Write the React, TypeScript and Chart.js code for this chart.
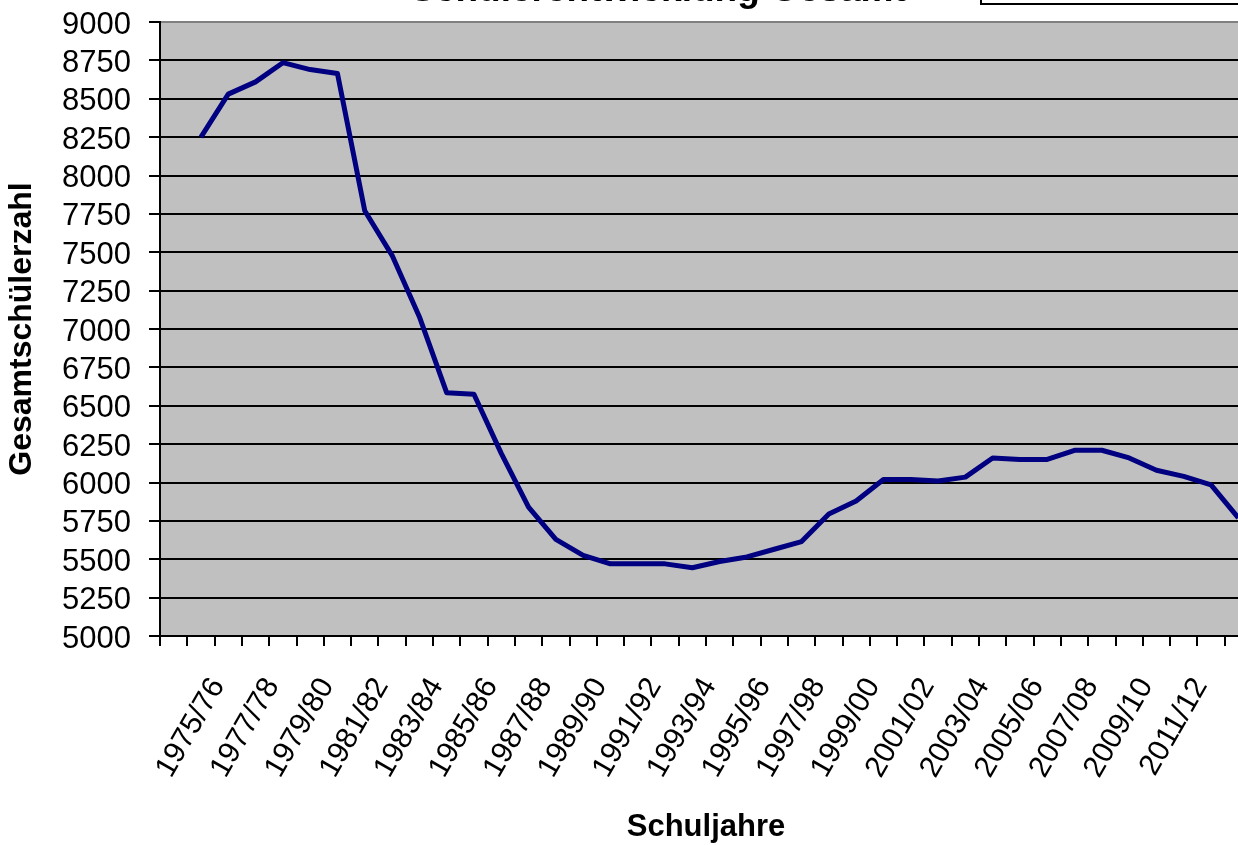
import { useEffect, useRef } from 'react';
import { Chart, registerables } from 'chart.js';

Chart.register(...registerables);

const chartTitle = 'Schülerentwicklung Gesamt';
const yAxisTitle = 'Gesamtschülerzahl';
const xAxisTitle = 'Schuljahre';

const schoolYears = [
  '',
  '1975/76', '1976/77', '1977/78', '1978/79', '1979/80', '1980/81', '1981/82', '1982/83',
  '1983/84', '1984/85', '1985/86', '1986/87', '1987/88', '1988/89', '1989/90', '1990/91',
  '1991/92', '1992/93', '1993/94', '1994/95', '1995/96', '1996/97', '1997/98', '1998/99',
  '1999/00', '2000/01', '2001/02', '2002/03', '2003/04', '2004/05', '2005/06', '2006/07',
  '2007/08', '2008/09', '2009/10', '2010/11', '2011/12', '2012/13', '2013/14',
];

const studentTotals = [
  null,
  8250, 8530, 8610, 8735, 8690, 8665, 7770, 7480,
  7080, 6585, 6575, 6190, 5840, 5630, 5525, 5470,
  5470, 5470, 5445, 5485, 5515, 5565, 5615, 5795,
  5880, 6020, 6020, 6010, 6035, 6160, 6150, 6150,
  6210, 6210, 6160, 6080, 6040, 5985, 5770,
];

const shownXLabels = [
  '1975/76', '1977/78', '1979/80', '1981/82', '1983/84', '1985/86', '1987/88', '1989/90',
  '1991/92', '1993/94', '1995/96', '1997/98', '1999/00', '2001/02', '2003/04', '2005/06',
  '2007/08', '2009/10', '2011/12',
];

const yMin = 5000;
const yMax = 9000;
const yStep = 250;

const FONT = '"Liberation Sans", Arial, sans-serif';

const decorPlugin = {
  id: 'decor',
  beforeDraw(chart: any) {
    const { ctx, chartArea } = chart;
    const { left, top, right, bottom } = chartArea;
    ctx.save();
    ctx.fillStyle = '#C0C0C0';
    ctx.fillRect(left, top, right - left, bottom - top);
    ctx.restore();
  },
  afterDraw(chart: any) {
    const { ctx } = chart;
    ctx.save();
    // chart title (mostly cut off at the top of the picture)
    ctx.fillStyle = '#000';
    ctx.font = `bold 37px ${FONT}`;
    ctx.textAlign = 'center';
    ctx.textBaseline = 'alphabetic';
    ctx.fillText(chartTitle, 658, 1);
    // legend frame (cut off)
    ctx.fillStyle = '#fff';
    ctx.fillRect(981, -40, 400, 44);
    ctx.strokeStyle = '#000';
    ctx.lineWidth = 2;
    ctx.strokeRect(981, -40, 400, 44);
    ctx.restore();
  },
};

export default function App() {
  const canvasRef = useRef<HTMLCanvasElement | null>(null);

  useEffect(() => {
    const canvas = canvasRef.current;
    if (!canvas) return;
    const chart = new Chart(canvas, {
      type: 'line',
      data: {
        labels: schoolYears,
        datasets: [
          {
            label: 'Gesamt',
            data: studentTotals,
            borderColor: '#000080',
            backgroundColor: '#000080',
            borderWidth: 5,
            pointRadius: 0,
            pointHoverRadius: 0,
            tension: 0,
            fill: false,
            borderJoinStyle: 'round',
          },
        ],
      },
      options: {
        responsive: false,
        animation: false,
        devicePixelRatio: 1,
        layout: { padding: { top: 22, right: 48, left: 0, bottom: 0 } },
        plugins: {
          legend: { display: false },
          title: { display: false },
          tooltip: { enabled: false },
        },
        scales: {
          x: {
            type: 'category',
            offset: true,
            ticks: {
              autoSkip: false,
              minRotation: 60,
              maxRotation: 60,
              color: '#000',
              font: { family: FONT, size: 30 },
              padding: 26,
              labelOffset: 17,
              callback: (_v: any, index: number) => {
                const l = schoolYears[index];
                return shownXLabels.includes(l) ? l : '';
              },
            },
            grid: {
              offset: true,
              drawOnChartArea: false,
              drawTicks: true,
              tickLength: 10,
              tickColor: '#000',
              color: '#000',
              lineWidth: 2,
            },
            border: { display: true, color: '#000', width: 2 },
            title: {
              display: true,
              text: xAxisTitle,
              color: '#000',
              font: { family: FONT, size: 31, weight: 'bold' },
              padding: { top: 0, bottom: 24 },
            },
            afterFit: (s: any) => {
              s.height = 234;
              s.paddingLeft = 0;
              s.paddingRight = 0;
            },
          },
          y: {
            min: yMin,
            max: yMax,
            ticks: {
              stepSize: yStep,
              autoSkip: false,
              color: '#000',
              font: { family: FONT, size: 31 },
              padding: 18,
              labelOffset: 3,
              callback: (v: any) => String(v),
            },
            grid: {
              color: (c: any) => (c.tick && c.tick.value === yMax ? '#808080' : '#000'),
              tickColor: '#000',
              lineWidth: 2,
              tickLength: 11,
              drawTicks: true,
            },
            border: { display: true, color: '#000', width: 2 },
            title: {
              display: true,
              text: yAxisTitle,
              color: '#000',
              font: { family: FONT, size: 32, weight: 'bold' },
              padding: { top: 3, bottom: 0 },
            },
            afterFit: (s: any) => {
              s.width = 160;
              s.paddingTop = 0;
              s.paddingBottom = 0;
            },
          },
        },
      },
      plugins: [decorPlugin],
    });
    return () => chart.destroy();
  }, []);

  return (
    <div
      style={{
        position: 'fixed',
        left: 0,
        top: 0,
        width: 1238,
        height: 845,
        overflow: 'hidden',
        background: '#fff',
      }}
    >
      <canvas ref={canvasRef} width={1300} height={870} style={{ display: 'block', width: 1300, height: 870 }} />
    </div>
  );
}
